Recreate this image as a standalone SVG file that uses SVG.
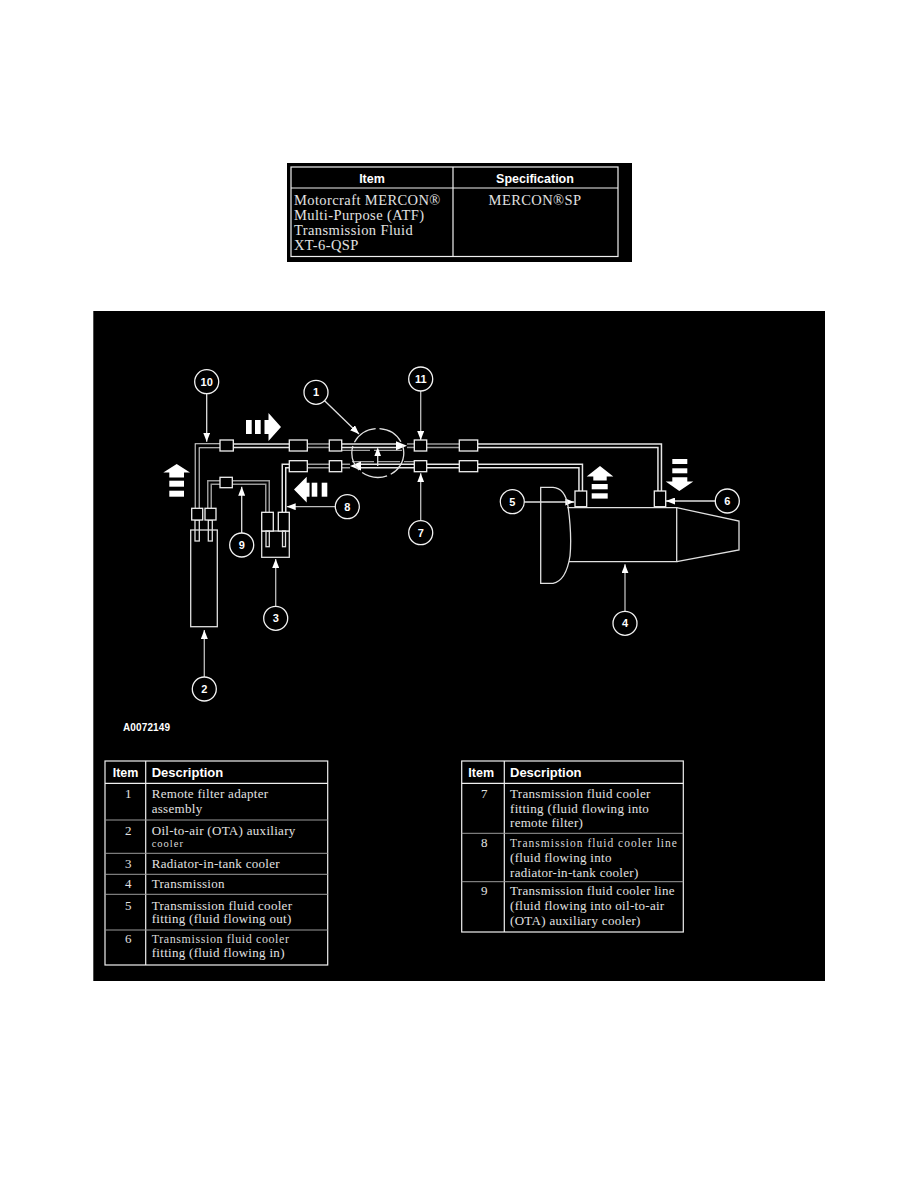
<svg xmlns="http://www.w3.org/2000/svg" width="918" height="1188" viewBox="0 0 918 1188">
<defs>
<style>
.tb{fill:none;stroke:#e6e6e6;stroke-width:5;stroke-linejoin:miter}
.tg{fill:none;stroke:#9a9a9a;stroke-width:5}
.ti{fill:none;stroke:#000;stroke-width:2;stroke-linejoin:miter}
.bx{fill:#000;stroke:#f0f0f0;stroke-width:1.3}
.ln{fill:none;stroke:#e0e0e0;stroke-width:1.3}
.gl{fill:none;stroke:#a0a0a0;stroke-width:1.3}
.ld{fill:none;stroke:#bdbdbd;stroke-width:1.3}
.cc{fill:#000;stroke:#f2f2f2;stroke-width:1.3}
.ct{font-family:"Liberation Sans",Arial,sans-serif;font-weight:bold;font-size:11px;fill:#fff;text-anchor:middle}
.fa{fill:#fff}
.hd{font-family:"Liberation Sans",Arial,sans-serif;font-weight:bold;font-size:12.5px;fill:#fff}
.sf{font-family:"Liberation Serif","Times New Roman",serif;font-size:13px;fill:#e2e2e2;letter-spacing:0.3px}
.sm{font-family:"Liberation Serif","Times New Roman",serif;font-size:11.5px;fill:#d8d8d8;letter-spacing:1px}
.tl{fill:none;stroke:#f0f0f0;stroke-width:1.2}
.tr{fill:none;stroke:#9a9a9a;stroke-width:1}
</style>
<marker id="ah" markerWidth="9" markerHeight="7" refX="9" refY="3.5" orient="auto" markerUnits="userSpaceOnUse"><path d="M0,0 L9,3.5 L0,7 z" fill="#fff"/></marker>
</defs>
<rect x="0" y="0" width="918" height="1188" fill="#fff"/>

<g id="spec-table">
<rect x="287" y="163" width="345" height="99" fill="#000"/>
<rect x="291" y="167" width="327" height="89.5" class="tl"/>
<line x1="291" y1="188" x2="618" y2="188" class="tl"/>
<line x1="453" y1="167" x2="453" y2="256.5" class="tl"/>
<text x="372" y="183" class="hd" font-size="13" text-anchor="middle">Item</text>
<text x="535" y="183" class="hd" font-size="13" text-anchor="middle">Specification</text>
<text x="294" y="205" class="sf" font-size="14.5" style="font-size:14.5px;letter-spacing:0.4px">Motorcraft MERCON®</text>
<text x="294" y="220" class="sf" style="font-size:14.5px;letter-spacing:0.4px">Multi-Purpose (ATF)</text>
<text x="294" y="235" class="sf" style="font-size:14.5px;letter-spacing:0.4px">Transmission Fluid</text>
<text x="294" y="250" class="sf" style="font-size:14.5px;letter-spacing:0.4px">XT-6-QSP</text>
<text x="535" y="205" class="sf" text-anchor="middle" style="font-size:14.5px;letter-spacing:0.4px">MERCON®SP</text>
</g>

<rect x="93.3" y="311" width="731.7" height="670" fill="#000"/>

<g id="connectors">
<!-- tubes -->
<path d="M197.2,508.3 V445.7 H220" class="tb"/><path d="M197.2,508.3 V445.7 H220" class="ti" style="stroke-width:3"/>
<path d="M233.3,445.7 H289.3" class="tb"/><path d="M233.3,445.7 H289.3" class="ti"/>
<path d="M307.3,445.7 H329.3" class="tg"/><path d="M307.3,445.7 H329.3" class="ti"/>
<path d="M341.7,445.7 H397" class="tb"/><path d="M341.7,445.7 H397" class="ti"/>
<path d="M407,445.7 H414.3" class="tg"/><path d="M407,445.7 H414.3" class="ti"/>
<path d="M426.7,445.7 H459.3" class="tg"/><path d="M426.7,445.7 H459.3" class="ti"/>
<path d="M477.7,445.7 H659.7 V491" class="tb"/><path d="M477.7,445.7 H659.7 V491" class="ti"/>
<path d="M580.7,491 V466 H477.7" class="tb"/><path d="M580.7,491 V466 H477.7" class="ti"/>
<path d="M459.3,466 H426.7" class="tb"/><path d="M459.3,466 H426.7" class="ti"/>
<path d="M414.3,466 H361" class="tb"/><path d="M414.3,466 H361" class="ti"/>
<path d="M350,466 H341.7" class="tg"/><path d="M350,466 H341.7" class="ti"/>
<path d="M329.3,466 H307.3" class="tg"/><path d="M329.3,466 H307.3" class="ti"/>
<path d="M289.3,466 H284 V512.3" class="tb"/><path d="M289.3,466 H284 V512.3" class="ti"/>
<path d="M209.5,508.3 V482.5 H220" class="tg"/><path d="M209.5,508.3 V482.5 H220" class="ti"/>
<path d="M232.3,482.5 H267.5 V512.3" class="tg"/><path d="M232.3,482.5 H267.5 V512.3" class="ti"/>
<!-- filter internals -->
<line x1="342" y1="450.3" x2="405" y2="450.3" class="gl" stroke-dasharray="28 4"/>
<line x1="352" y1="461.6" x2="414" y2="461.6" class="gl" stroke-dasharray="22 4"/>
<polygon points="407,445.7 396,441.2 396,450.2" class="fa"/>
<polygon points="350,466 361,461.5 361,470.5" class="fa"/>
<line x1="377.7" y1="466" x2="377.7" y2="455" class="ln"/>
<polygon points="377.7,447.3 374.4,456 381,456" class="fa"/>
<ellipse cx="377.8" cy="453" rx="26" ry="24.5" class="ln" stroke-dasharray="26 4"/>
<!-- leaders -->
<line x1="324.6" y1="400.7" x2="359" y2="434" class="ln" marker-end="url(#ah)"/>
<line x1="204.3" y1="677" x2="204.3" y2="630" class="ld" marker-end="url(#ah)"/>
<line x1="275.7" y1="606.3" x2="275.7" y2="559" class="ld" marker-end="url(#ah)"/>
<line x1="625" y1="611.3" x2="625" y2="564.3" class="ld" marker-end="url(#ah)"/>
<line x1="524.3" y1="502" x2="574.3" y2="502" class="ln" marker-end="url(#ah)"/>
<line x1="715.3" y1="501" x2="666" y2="501" class="ln" marker-end="url(#ah)"/>
<line x1="420.7" y1="520.7" x2="420.7" y2="473.3" class="ld" marker-end="url(#ah)"/>
<line x1="335.3" y1="506.7" x2="286.7" y2="506.7" class="ld" marker-end="url(#ah)"/>
<line x1="241.7" y1="533" x2="241.7" y2="486.7" class="ln" marker-end="url(#ah)"/>
<line x1="206.7" y1="393.7" x2="206.7" y2="441.7" class="ln" marker-end="url(#ah)"/>
<line x1="420.7" y1="391" x2="420.7" y2="440" class="ld" marker-end="url(#ah)"/>
</g>

<g id="fittings">
<rect x="220" y="440" width="13.3" height="11" class="bx"/>
<rect x="289.3" y="440" width="18" height="11" class="bx"/>
<rect x="329.3" y="440" width="12.4" height="11" class="bx"/>
<rect x="459.3" y="440" width="18.4" height="11" class="bx"/>
<rect x="289.3" y="460.7" width="18" height="11" class="bx"/>
<rect x="329.3" y="460.7" width="12.4" height="11" class="bx"/>
<rect x="459.3" y="460.7" width="18.4" height="11" class="bx"/>
<rect x="414.3" y="440" width="12.4" height="11" class="bx"/>
<rect x="414.3" y="460.7" width="12.4" height="11" class="bx"/>
<rect x="220" y="477.3" width="12.3" height="10.4" class="bx"/>
</g>

<g id="ota-cooler">
<rect x="190.7" y="530" width="26.6" height="96.7" class="ln"/>
<rect x="195" y="520" width="4.3" height="21" class="ln"/>
<rect x="208.3" y="520" width="4" height="21" class="ln"/>
<rect x="191.7" y="508.3" width="11" height="11.7" class="bx"/>
<rect x="205" y="508.3" width="11" height="11.7" class="bx"/>
</g>

<g id="radiator-cooler">
<rect x="261.7" y="531" width="27.6" height="26.3" class="ln"/>
<rect x="261.7" y="512.3" width="11.6" height="18.7" class="bx"/>
<rect x="278.3" y="512.3" width="11" height="18.7" class="bx"/>
<rect x="266" y="531" width="3.3" height="15.7" class="ln"/>
<rect x="282.5" y="531" width="3" height="15.7" class="ln"/>
</g>

<g id="transmission">
<path d="M540.7,487.3 H553 Q565,488 568,506 Q572,535 570,556 Q566,581 553,583.3 H540.7 Z" class="ln"/>
<path d="M567.3,507.7 H676.7 V561.7 H569" class="ln"/>
<path d="M676.7,507.7 L739,521 V550 L676.7,561.7" class="ln"/>
<rect x="575" y="491" width="11.7" height="15.7" class="bx"/>
<rect x="654.3" y="491" width="11.4" height="15.7" class="bx"/>
</g>

<g id="flow-arrows">
<polygon points="176.7,464 190,472.5 184,472.5 184,477.5 169.3,477.5 169.3,472.5 163.3,472.5" class="fa"/>
<rect x="169.3" y="480.7" width="14.7" height="6" class="fa"/>
<rect x="169.3" y="490.7" width="14.7" height="6" class="fa"/>
<rect x="246" y="420" width="5.7" height="14" class="fa"/>
<rect x="255" y="420" width="5.7" height="14" class="fa"/>
<polygon points="264.5,420 268.5,420 268.5,413 281,427 268.5,441 268.5,434 264.5,434" class="fa"/>
<polygon points="294,489.5 306.7,476.7 306.7,482.7 309.5,482.7 309.5,496.7 306.7,496.7 306.7,502.5" class="fa"/>
<rect x="311.7" y="482.7" width="5.6" height="14" class="fa"/>
<rect x="321.7" y="482.7" width="5.6" height="14" class="fa"/>
<polygon points="600,466 613.3,476.5 606.7,476.5 606.7,480.5 593.3,480.5 593.3,476.5 586.7,476.5" class="fa"/>
<rect x="591.7" y="484" width="16" height="5.3" class="fa"/>
<rect x="591.7" y="493.3" width="16" height="5.3" class="fa"/>
<rect x="672.3" y="459" width="15" height="5" class="fa"/>
<rect x="672.3" y="468.3" width="15" height="5" class="fa"/>
<polygon points="672.3,477.3 687.3,477.3 687.3,481.5 693.3,481.5 679.3,491 665.7,481.5 672.3,481.5" class="fa"/>
</g>

<g id="c1"><circle cx="316" cy="392.3" r="12" class="cc"/><text x="316" y="396.3" class="ct">1</text></g>
<g id="c2"><circle cx="204.3" cy="689" r="12" class="cc"/><text x="204.3" y="693" class="ct">2</text></g>
<g id="c3"><circle cx="275.7" cy="618.3" r="12" class="cc"/><text x="275.7" y="622.3" class="ct">3</text></g>
<g id="c4"><circle cx="625" cy="623.3" r="12" class="cc"/><text x="625" y="627.3" class="ct">4</text></g>
<g id="c5"><circle cx="512.3" cy="501.7" r="12" class="cc"/><text x="512.3" y="505.7" class="ct">5</text></g>
<g id="c6"><circle cx="727.3" cy="501" r="12" class="cc"/><text x="727.3" y="505" class="ct">6</text></g>
<g id="c7"><circle cx="420.7" cy="532.7" r="12" class="cc"/><text x="420.7" y="536.7" class="ct">7</text></g>
<g id="c8"><circle cx="347.3" cy="506.7" r="12" class="cc"/><text x="347.3" y="510.7" class="ct">8</text></g>
<g id="c9"><circle cx="241.7" cy="545" r="12" class="cc"/><text x="241.7" y="549" class="ct">9</text></g>
<g id="c10"><circle cx="206.7" cy="381.7" r="12" class="cc"/><text x="206.7" y="385.7" class="ct">10</text></g>
<g id="c11"><circle cx="420.7" cy="379" r="12" class="cc"/><text x="420.7" y="383" class="ct">11</text></g>

<text x="123" y="731" font-family="Liberation Sans,Arial,sans-serif" font-weight="bold" font-size="10" fill="#fff" textLength="47">A0072149</text>

<g id="legend-left">
<rect x="105" y="761" width="222.7" height="204" class="tl"/>
<line x1="105" y1="783.3" x2="327.7" y2="783.3" class="tl"/>
<line x1="145.7" y1="761" x2="145.7" y2="965" class="tl"/>
<line x1="105" y1="820" x2="327.7" y2="820" class="tr"/>
<line x1="105" y1="853.3" x2="327.7" y2="853.3" class="tr"/>
<line x1="105" y1="874.3" x2="327.7" y2="874.3" class="tr"/>
<line x1="105" y1="894.3" x2="327.7" y2="894.3" class="tr"/>
<line x1="105" y1="930" x2="327.7" y2="930" class="tr"/>
<text x="112.7" y="777" class="hd">Item</text>
<text x="151.7" y="777" class="hd" style="font-size:13px">Description</text>
<text x="128.3" y="798.3" class="sf" text-anchor="middle">1</text>
<text x="151.7" y="798.3" class="sf">Remote filter adapter</text>
<text x="151.7" y="813.3" class="sf">assembly</text>
<text x="128.3" y="835" class="sf" text-anchor="middle">2</text>
<text x="151.7" y="835" class="sf">Oil-to-air (OTA) auxiliary</text>
<text x="151.7" y="846.7" class="sm" style="font-size:10.5px">cooler</text>
<text x="128.3" y="868.3" class="sf" text-anchor="middle">3</text>
<text x="151.7" y="868.3" class="sf">Radiator-in-tank cooler</text>
<text x="128.3" y="888.3" class="sf" text-anchor="middle">4</text>
<text x="151.7" y="888.3" class="sf">Transmission</text>
<text x="128.3" y="910" class="sf" text-anchor="middle">5</text>
<text x="151.7" y="910" class="sf">Transmission fluid cooler</text>
<text x="151.7" y="923.3" class="sf">fitting (fluid flowing out)</text>
<text x="128.3" y="943.3" class="sf" text-anchor="middle">6</text>
<text x="151.7" y="943.3" class="sm" style="font-size:12px;letter-spacing:0.6px">Transmission fluid cooler</text>
<text x="151.7" y="956.7" class="sf">fitting (fluid flowing in)</text>
</g>

<g id="legend-right">
<rect x="461.7" y="761" width="221.6" height="171" class="tl"/>
<line x1="461.7" y1="783.3" x2="683.3" y2="783.3" class="tl"/>
<line x1="504.3" y1="761" x2="504.3" y2="932" class="tl"/>
<line x1="461.7" y1="833.3" x2="683.3" y2="833.3" class="tr"/>
<line x1="461.7" y1="881.7" x2="683.3" y2="881.7" class="tr"/>
<text x="468.3" y="777" class="hd">Item</text>
<text x="510" y="777" class="hd" style="font-size:13px">Description</text>
<text x="484.3" y="798.3" class="sf" text-anchor="middle">7</text>
<text x="510" y="798.3" class="sf">Transmission fluid cooler</text>
<text x="510" y="813.3" class="sf">fitting (fluid flowing into</text>
<text x="510" y="826.7" class="sf">remote filter)</text>
<text x="484.3" y="846.7" class="sf" text-anchor="middle">8</text>
<text x="510" y="846.7" class="sm">Transmission fluid cooler line</text>
<text x="510" y="861.7" class="sf">(fluid flowing into</text>
<text x="510" y="876.7" class="sf">radiator-in-tank cooler)</text>
<text x="484.3" y="895" class="sf" text-anchor="middle">9</text>
<text x="510" y="895" class="sf">Transmission fluid cooler line</text>
<text x="510" y="910" class="sf">(fluid flowing into oil-to-air</text>
<text x="510" y="925" class="sf">(OTA) auxiliary cooler)</text>
</g>
</svg>
